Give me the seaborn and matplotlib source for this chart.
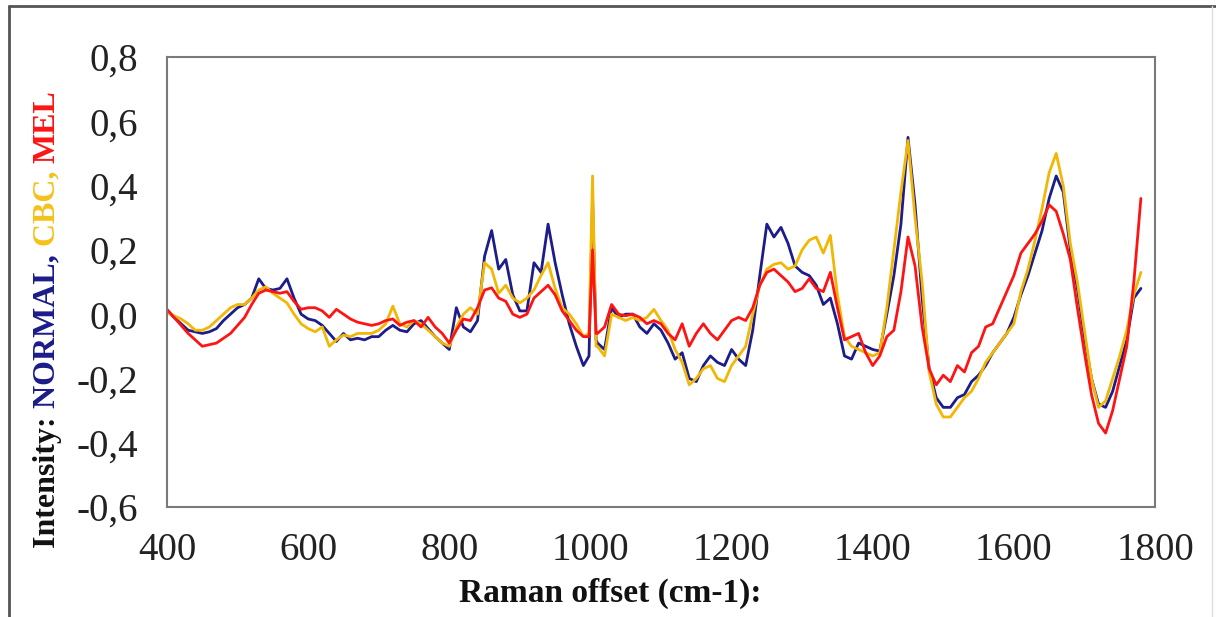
import pandas as pd
import matplotlib.pyplot as plt
import matplotlib.lines as mlines
from matplotlib.ticker import FuncFormatter
import seaborn as sns

# ---------------- DATA ----------------
# wavenumber grid, with the narrow phenylalanine band near 1003 cm-1
raman_shift = list(range(400, 1000, 10)) + [998, 1003, 1008] + list(range(1010, 1790, 10))

normal = [
    0.01, -0.01, -0.03, -0.05, -0.055, -0.06, -0.055, -0.045, -0.02, 0.0,
    0.02, 0.03, 0.05, 0.11, 0.08, 0.075, 0.08, 0.11, 0.05, 0.0,
    -0.015, -0.02, -0.035, -0.06, -0.085, -0.06, -0.08, -0.075, -0.08, -0.07,
    -0.07, -0.05, -0.035, -0.05, -0.055, -0.03, -0.02, -0.045, -0.07, -0.09,
    -0.11, 0.02, -0.04, -0.055, -0.02, 0.18, 0.26, 0.14, 0.17, 0.06,
    0.01, 0.01, 0.16, 0.13, 0.28, 0.16, 0.06, -0.03, -0.1, -0.16,
    -0.13, 0.36, -0.08,
    -0.09, -0.11, 0.02, -0.01, 0.0, 0.0, -0.04, -0.06, -0.03,
    -0.05, -0.09, -0.14, -0.12, -0.2, -0.21, -0.16, -0.13, -0.15, -0.16,
    -0.11, -0.14, -0.16, -0.05, 0.12, 0.28, 0.24, 0.27, 0.22, 0.15,
    0.13, 0.12, 0.09, 0.03, 0.05, -0.03, -0.13, -0.14, -0.09, -0.1,
    -0.11, -0.115, 0.0, 0.12, 0.28, 0.55, 0.34, 0.05, -0.17, -0.26,
    -0.29, -0.29, -0.26, -0.25, -0.21, -0.19, -0.16, -0.12, -0.09, -0.06,
    -0.01, 0.06, 0.12, 0.19, 0.26, 0.36, 0.43, 0.38, 0.2, 0.08,
    -0.07, -0.2, -0.28, -0.29, -0.24, -0.16, -0.08, 0.05, 0.08,
]

cbc = [
    0.005, -0.005, -0.015, -0.03, -0.05, -0.05, -0.04, -0.02, 0.0, 0.02,
    0.03, 0.03, 0.05, 0.075, 0.085, 0.065, 0.05, 0.035, 0.0, -0.03,
    -0.045, -0.055, -0.04, -0.1, -0.08, -0.065, -0.07, -0.06, -0.06, -0.06,
    -0.05, -0.03, 0.025, -0.03, -0.04, -0.02, -0.03, -0.05, -0.07, -0.09,
    -0.1, -0.04, 0.0, 0.02, 0.0, 0.16, 0.14, 0.065, 0.09, 0.05,
    0.035, 0.05, 0.075, 0.12, 0.16, 0.08, 0.02, 0.0, -0.03, -0.07,
    -0.06, 0.43, -0.1,
    -0.1, -0.13, 0.0, -0.01, -0.02, -0.01, -0.02, -0.01, 0.015,
    -0.02, -0.05, -0.11, -0.15, -0.22, -0.2, -0.17, -0.16, -0.2, -0.21,
    -0.16, -0.13, -0.1, 0.0, 0.09, 0.14, 0.155, 0.16, 0.14, 0.15,
    0.2, 0.23, 0.24, 0.19, 0.245, 0.06, -0.07, -0.1, -0.11, -0.12,
    -0.13, -0.12, 0.02, 0.2, 0.38, 0.54, 0.3, 0.1, -0.18, -0.28,
    -0.32, -0.32, -0.29, -0.26, -0.24, -0.2, -0.15, -0.12, -0.09, -0.06,
    -0.03, 0.07, 0.14, 0.23, 0.33, 0.44, 0.5, 0.4, 0.22, 0.1,
    -0.05, -0.2, -0.29, -0.27, -0.2, -0.13, -0.05, 0.06, 0.13,
]

mel = [
    0.015, -0.01, -0.035, -0.06, -0.08, -0.1, -0.095, -0.09, -0.075, -0.06,
    -0.035, -0.01, 0.03, 0.065, 0.075, 0.07, 0.065, 0.07, 0.04, 0.015,
    0.02, 0.02, 0.01, -0.01, 0.015, 0.0, -0.015, -0.025, -0.03, -0.035,
    -0.03, -0.02, -0.015, -0.035, -0.025, -0.02, -0.04, -0.01, -0.04, -0.06,
    -0.09, -0.05, -0.015, -0.02, 0.02, 0.075, 0.082, 0.05, 0.04, 0.0,
    -0.01, 0.0, 0.05, 0.07, 0.09, 0.06, 0.01, -0.02, -0.05, -0.07,
    -0.07, 0.2, -0.06,
    -0.06, -0.04, 0.03, 0.0, -0.005, 0.0, -0.01, -0.03, -0.02,
    -0.03, -0.06, -0.08, -0.03, -0.1, -0.06, -0.03, -0.06, -0.08, -0.05,
    -0.02, -0.01, -0.02, 0.02, 0.09, 0.13, 0.14, 0.12, 0.1, 0.07,
    0.08, 0.11, 0.08, 0.07, 0.13, 0.02, -0.08, -0.07, -0.06, -0.12,
    -0.16, -0.13, -0.07, -0.05, 0.07, 0.24, 0.15, -0.04, -0.17, -0.22,
    -0.19, -0.21, -0.16, -0.18, -0.12, -0.1, -0.04, -0.03, 0.02, 0.07,
    0.12, 0.19, 0.22, 0.25, 0.29, 0.34, 0.32, 0.25, 0.17, 0.02,
    -0.12, -0.25, -0.34, -0.37, -0.3, -0.2, -0.1, 0.1, 0.36,
]

groups = ["NORMAL", "CBC", "MEL"]
colors = {"NORMAL": "#1c1c8a", "CBC": "#f2b705", "MEL": "#ff1414"}
label_colors = {"NORMAL": "#1c1c8a", "CBC": "#f5c21b", "MEL": "#ff1414"}
y_ticks = [-0.6, -0.4, -0.2, 0.0, 0.2, 0.4, 0.6, 0.8]
x_ticks = [400, 600, 800, 1000, 1200, 1400, 1600, 1800]

df = pd.DataFrame({
    "shift": raman_shift * 3,
    "intensity": normal + cbc + mel,
    "group": ["NORMAL"] * len(raman_shift) + ["CBC"] * len(raman_shift) + ["MEL"] * len(raman_shift),
})

# ---------------- PLOT ----------------
sns.set_style("white")
plt.rcParams["font.family"] = ["Liberation Serif", "DejaVu Serif"]

fig = plt.figure(figsize=(12.16, 6.17), dpi=100)
ax = fig.add_axes([167 / 1216, 1 - 507 / 617, 988 / 1216, 450 / 617])

sns.lineplot(
    data=df,
    x="shift",
    y="intensity",
    hue="group",
    hue_order=groups,
    palette=colors,
    estimator=None,
    linewidth=2,
    legend=False,
    ax=ax,
)

ax.set_xlim(400, 1800)
ax.set_ylim(-0.6, 0.8)
ax.set_xticks(x_ticks)
ax.set_yticks(y_ticks)
ax.yaxis.set_major_formatter(FuncFormatter(lambda v, p: f"{v:.1f}".replace(".", ",")))
ax.tick_params(axis="both", direction="out", length=9, width=1.3, color="#7a7a7a",
               labelsize=28, labelcolor="#222222")
ax.tick_params(axis="y", pad=12)
ax.tick_params(axis="x", pad=9)
for s in ax.spines.values():
    s.set_color("#7a7a7a")
    s.set_linewidth(1.5)
ax.set_xlabel("")
ax.set_ylabel("")

# x label (sits left of the axes centre in the reference)
fig.text(610 / 1216, 1 - 593 / 617, "Raman offset (cm-1):", ha="center", va="center",
         fontsize=24, fontweight="bold", color="#111111")

# multi-coloured y label built from pieces stacked upwards
pieces = [("Intensity: ", "#111111"),
          ("NORMAL, ", label_colors["NORMAL"]),
          ("CBC, ", label_colors["CBC"]),
          ("MEL", label_colors["MEL"])]
prev = fig.text(47 / 1216, 1 - 548 / 617, pieces[0][0], rotation=90, ha="center", va="bottom",
                fontsize=23, fontweight="bold", color=pieces[0][1])
for txt, col in pieces[1:]:
    prev = ax.annotate(txt, xy=(0.5, 1), xycoords=prev, rotation=90, ha="center", va="bottom",
                       fontsize=23, fontweight="bold", color=col, annotation_clip=False)

# outer frame of the figure
fig.add_artist(mlines.Line2D([8.5 / 1216, 8.5 / 1216], [0, 1 - 5.5 / 617], color="#555555", lw=2))
fig.add_artist(mlines.Line2D([8.5 / 1216, 1], [1 - 5.5 / 617, 1 - 5.5 / 617], color="#555555", lw=2))
fig.add_artist(mlines.Line2D([1211.5 / 1216, 1211.5 / 1216], [0, 1 - 5.5 / 617], color="#dddddd", lw=1))

plt.savefig("out.png", dpi=100)
